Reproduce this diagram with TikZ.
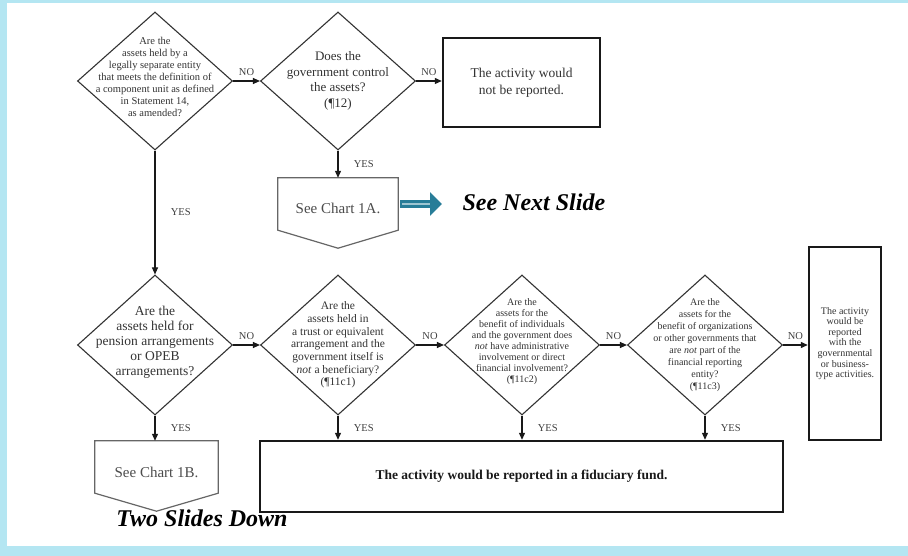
\documentclass[tikz,border=0pt]{standalone}
\usepackage{fontspec}
\setmainfont{Liberation Serif}
\usetikzlibrary{shapes.geometric,arrows.meta,positioning}
\definecolor{slideblue}{RGB}{180,230,242}
\definecolor{nextteal}{RGB}{40,125,152}
\def\askfont#1#2{\fontsize{#1}{#2}\selectfont}
\tikzset{
  decision/.style={diamond, draw=black!80, line width=1.1pt, inner sep=0pt, minimum width=155pt, minimum height=138pt},
  asktext/.style={align=center, inner sep=0pt, text=black!80},
  outcome/.style={draw=black!90, line width=2.4pt, align=center, text=black!80, inner sep=0pt},
  chart/.style={inner sep=0pt, text=black!70, font=\askfont{15}{18}, text height=20pt, text depth=0pt},
  chartline/.style={draw=black!60, line width=1.2pt},
  answer/.style={font=\askfont{10.5}{12}, text=black!75},
  flow/.style={-{Triangle[length=7pt,width=6pt]}, line width=1.1pt, draw=black!90},
  jump/.style={font=\askfont{24}{28}\bfseries\itshape}
}

\begin{document}
\begin{tikzpicture}[x=1pt,y=-1pt]
    \useasboundingbox (0,0) rectangle (908,556);
    \fill[slideblue] (0,0) rectangle (908,556);
    \fill[white] (7,3) rectangle (908,546);

    \node[decision] (component) at (155,81) {};
    \node[asktext, font=\askfont{10.5}{12}] (component-q) at (155,77) {Are the\\assets held by a\\legally separate entity\\that meets the definition of\\a component unit as defined\\in Statement 14,\\as amended?};
    \node[decision] (control) at (338,81) {};
    \node[asktext, font=\askfont{13}{15.5}] (control-q) at (338,81) {Does the\\government control\\the assets?\\(¶12)};
    \node[outcome, minimum width=157pt, minimum height=89pt, font=\askfont{13.5}{16.7}] (ignored) at (521.5,82.5) {The activity would\\not be reported.};
    \node[chart, minimum width=120pt, minimum height=52pt] (chartA) at (338,204) {See Chart 1A.};
    \draw[chartline] (chartA.north west) -- (chartA.north east) -- (chartA.south east) -- ([yshift=-18pt]chartA.south) -- (chartA.south west) -- cycle;
    \node[jump, anchor=west] (nextslide) at (459,202) {See Next Slide};

    \begin{scope}[decision/.append style={minimum height=140pt}]
        \node[decision] (pension) at (155,345) {};
        \node[asktext, font=\askfont{13.5}{15}] (pension-q) at (155,342) {Are the\\assets held for\\pension arrangements\\or OPEB\\arrangements?};
        \node[decision] (trust) at (338,345) {};
        \node[asktext, font=\askfont{11.5}{12.7}] (trust-q) at (338,345) {Are the\\assets held in\\a trust or equivalent\\arrangement and the\\government itself is\\\textit{not} a beneficiary?\\(¶11c1)};
        \node[decision] (individuals) at (522,345) {};
        \node[asktext, font=\askfont{10}{11}] (individuals-q) at (522,342) {Are the\\assets for the\\benefit of individuals\\and the government does\\\textit{not} have administrative\\involvement or direct\\financial involvement?\\(¶11c2)};
        \node[decision] (organizations) at (705,345) {};
        \node[asktext, font=\askfont{10}{12}] (organizations-q) at (705,345) {Are the\\assets for the\\benefit of organizations\\or other governments that\\are \textit{not} part of the\\financial reporting\\entity?\\(¶11c3)};
    \end{scope}
    \node[outcome, minimum width=72pt, minimum height=193pt, font=\askfont{10}{10.6}] (reported) at (845,343.5) {The activity\\would be\\reported\\with the\\governmental\\or business-\\type activities.};
    \node[outcome, minimum width=523pt, minimum height=71pt, font=\askfont{13.5}{16}\bfseries, text=black!90] (fiduciary) at (521.5,476.5) {The activity would be reported in a fiduciary fund.};
    \node[chart, minimum width=123pt, minimum height=52pt] (chartB) at (156.5,467) {See Chart 1B.};
    \draw[chartline] (chartB.north west) -- (chartB.north east) -- (chartB.south east) -- ([yshift=-18pt]chartB.south) -- (chartB.south west) -- cycle;
    \node[jump] (twoslides) at (202,518) {Two Slides Down};

    \draw[flow] (component.east) -- (control.west) node[answer, midway, above=2pt] {NO};
    \draw[flow] (control.east) -- (control.east -| ignored.west) node[answer, midway, above=2pt] {NO};
    \draw[flow] (control.south) -- (chartA.north) node[answer, midway, right=12pt] {YES};
    \draw[flow] (component.south) -- (pension.north) node[answer, midway, right=12pt] {YES};
    \draw[nextteal, line width=7.5pt, -{Triangle[length=12pt,width=23pt]}, shorten <=2pt, shorten >=17pt] (chartA.east) -- (chartA.east -| nextslide.west);
    \draw[white!55!nextteal, line width=1.4pt, shorten <=4pt, shorten >=29pt] (chartA.east) -- (chartA.east -| nextslide.west);

    \draw[flow] (pension.east) -- (trust.west) node[answer, midway, above=2pt] {NO};
    \draw[flow] (trust.east) -- (individuals.west) node[answer, midway, above=2pt] {NO};
    \draw[flow] (individuals.east) -- (organizations.west) node[answer, midway, above=2pt] {NO};
    \draw[flow] (organizations.east) -- (organizations.east -| reported.west) node[answer, midway, above=2pt] {NO};
    \draw[flow] (pension.south) -- (pension.south |- chartB.north) node[answer, midway, right=12pt] {YES};
    \draw[flow] (trust.south) -- (trust.south |- fiduciary.north) node[answer, midway, right=12pt] {YES};
    \draw[flow] (individuals.south) -- (individuals.south |- fiduciary.north) node[answer, midway, right=12pt] {YES};
    \draw[flow] (organizations.south) -- (organizations.south |- fiduciary.north) node[answer, midway, right=12pt] {YES};
\end{tikzpicture}
\end{document}
